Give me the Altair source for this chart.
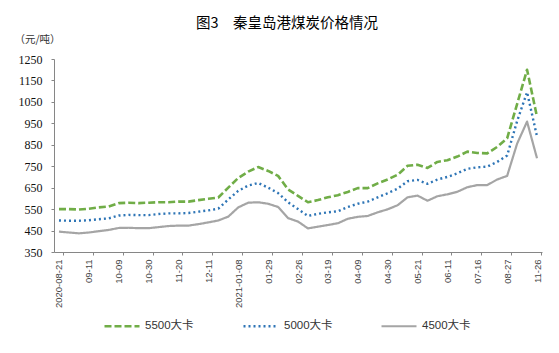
import json
import altair as alt
import pandas as pd

# ---- data ----
dates = [
    "2020-08-21", "2020-08-28", "2020-09-04", "2020-09-11", "2020-09-18", "2020-09-25",
    "2020-10-09", "2020-10-16", "2020-10-23", "2020-10-30", "2020-11-06", "2020-11-13",
    "2020-11-20", "2020-11-27", "2020-12-04", "2020-12-11", "2020-12-18", "2020-12-25",
    "2021-01-08", "2021-01-15", "2021-01-22", "2021-01-29", "2021-02-05", "2021-02-19",
    "2021-02-26", "2021-03-05", "2021-03-12", "2021-03-19", "2021-03-26", "2021-04-02",
    "2021-04-09", "2021-04-16", "2021-04-23", "2021-04-30", "2021-05-07", "2021-05-14",
    "2021-05-21", "2021-05-28", "2021-06-04", "2021-06-11", "2021-06-18", "2021-07-02",
    "2021-07-16", "2021-07-30", "2021-08-13", "2021-08-27", "2021-09-24", "2021-10-22",
    "2021-11-26",
]
p5500 = [550, 550, 548, 552, 558, 562, 578, 580, 578, 580, 582, 582,
         585, 585, 592, 598, 604, 650, 695, 725, 746, 728, 705, 642,
         612, 582, 592, 605, 615, 630, 648, 648, 670, 688, 710, 752,
         757, 742, 770, 778, 795, 818, 812, 810, 840, 880, 1040, 1200,
         980]
p5000 = [497, 496, 496, 498, 503, 507, 520, 523, 522, 522, 527, 530,
         530, 532, 538, 544, 552, 595, 635, 660, 672, 650, 625, 582,
         550, 518, 528, 535, 540, 560, 575, 585, 605, 624, 645, 680,
         686, 668, 688, 700, 717, 738, 745, 748, 770, 800, 960, 1095,
         888]
p4500 = [445, 441, 437, 441, 447, 453, 462, 463, 461, 461, 466, 471,
         473, 473, 480, 488, 497, 515, 558, 580, 582, 575, 560, 508,
         492, 460, 468, 476, 484, 505, 514, 518, 535, 549, 568, 605,
         613, 589, 610, 619, 631, 652, 662, 662, 688, 705, 855, 958,
         787]
series = ["5500大卡", "5000大卡", "4500大卡"]
colors = ["#70AD47", "#2E75B6", "#A5A5A5"]
dashes = [[7, 3], [2, 3], [1, 0]]
widths = [2.6, 2.2, 1.6]
y_ticks = [350, 450, 550, 650, 750, 850, 950, 1050, 1150, 1250]
x_tick_dates = dates[::3]
full_year_labels = ["2020-08-21", "2021-01-08"]

rows = []
for name, vals in zip(series, [p5500, p5000, p4500]):
    for d, v in zip(dates, vals):
        rows.append({"date": d, "series": name, "price": v})
df = pd.DataFrame(rows)

label_expr = (
    "indexof(" + json.dumps(full_year_labels) + ", datum.label) >= 0 ? datum.label : slice(datum.label, 5)"
)

legend_opts = dict(
    title=None,
    orient="none",
    legendX=49,
    legendY=248,
    direction="horizontal",
    symbolType="stroke",
    symbolSize=1225,
    labelFont="Liberation Sans, Noto Sans CJK SC",
    labelFontSize=11.5,
    labelColor="#333333",
    labelOffset=4,
    columnPadding=44,
    padding=0,
)

chart = (
    alt.Chart(df)
    .mark_line(strokeJoin="round")
    .encode(
        x=alt.X(
            "date:O",
            sort=dates,
            scale=alt.Scale(type="point", padding=0.5),
            axis=alt.Axis(
                values=x_tick_dates,
                labelExpr=label_expr,
                labelAngle=-90,
                title=None,
                tickSize=3,
                tickOffset=4,
                labelOffset=-4,
                labelPadding=4,
                labelFont="Liberation Sans",
                labelFontSize=9.5,
                labelColor="#444444",
            ),
        ),
        y=alt.Y(
            "price:Q",
            scale=alt.Scale(domain=[350, 1250], nice=False, zero=False),
            axis=alt.Axis(
                values=y_ticks,
                format="d",
                title="（元/吨）",
                titleAngle=0,
                titleX=-17,
                titleY=-20,
                titleAlign="center",
                titleBaseline="middle",
                titleFont="Noto Sans CJK SC",
                titleFontSize=10.5,
                titleFontWeight="normal",
                titleColor="#333333",
                tickSize=3,
                labelPadding=9,
                labelFont="Liberation Serif",
                labelFontSize=12,
                labelColor="#111111",
                grid=False,
            ),
        ),
        color=alt.Color(
            "series:N", sort=series,
            scale=alt.Scale(domain=series, range=colors),
            legend=alt.Legend(**legend_opts),
        ),
        strokeDash=alt.StrokeDash(
            "series:N", sort=series,
            scale=alt.Scale(domain=series, range=dashes),
            legend=alt.Legend(**legend_opts),
        ),
        strokeWidth=alt.StrokeWidth(
            "series:N", sort=series,
            scale=alt.Scale(domain=series, range=widths),
            legend=alt.Legend(**legend_opts),
        ),
    )
    .properties(
        width=488,
        height=193,
        autosize=alt.AutoSizeParams(type="none"),
        padding={"left": 54, "top": 59, "right": 17, "bottom": 101},
        title=alt.TitleParams(
            text="图3　秦皇岛港煤炭价格情况",
            anchor="middle",
            dx=-11,
            offset=3,
            font="Noto Sans CJK SC",
            fontSize=14.5,
            fontWeight="normal",
            color="#000000",
        ),
    )
    .configure_view(stroke=None)
    .configure_axis(domainColor="#868686", tickColor="#868686", grid=False)
)

chart.save("out.html", embed_options={"renderer": "svg", "actions": False})
